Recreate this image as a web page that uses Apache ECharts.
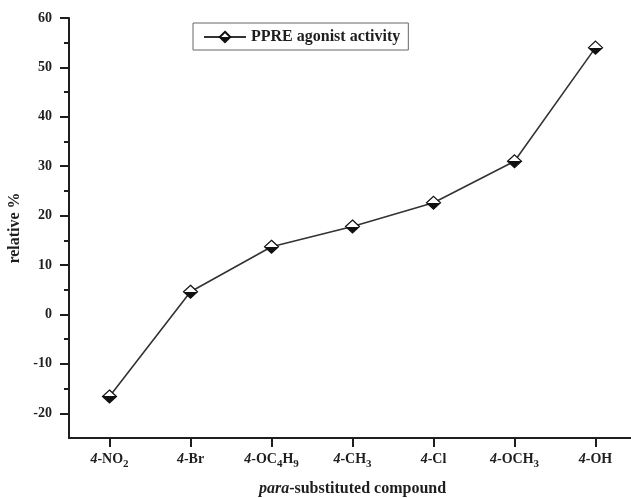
<!DOCTYPE html>
<html>
<head>
<meta charset="utf-8">
<script src="https://cdn.jsdelivr.net/npm/echarts@6/dist/echarts.min.js"></script>
<style>
html,body{margin:0;padding:0;background:#fff;}
#c{width:631px;height:498px;}
</style>
</head>
<body>
<div id="c"></div>
<script>
const categories = ['4-NO2', '4-Br', '4-OC4H9', '4-CH3', '4-Cl', '4-OCH3', '4-OH'];
const agonistActivity = [-16.6, 4.6, 13.7, 17.8, 22.6, 31.0, 54.0];
const seriesName = 'PPRE agonist activity';
const yMajorTicks = [-20, -10, 0, 10, 20, 30, 40, 50, 60];
const yMinorTicks = [-15, -5, 5, 15, 25, 35, 45, 55];

const FONT = '"Liberation Serif", "Times New Roman", serif';
const INK = '#1e1e1e';

function fmtCat(v) {
  const rest = v.slice(2).replace(/(\d+)/g, '}{s|$1}{b|');
  return '{i|4}{b|-' + rest + '}';
}

const chart = echarts.init(document.getElementById('c'), null, {renderer: 'canvas'});
const diamondFill = new echarts.graphic.LinearGradient(0, 0, 0, 1, [
  {offset: 0, color: '#ffffff'}, {offset: 0.5, color: '#ffffff'},
  {offset: 0.5, color: '#111111'}, {offset: 1, color: '#111111'}
]);

chart.setOption({
  backgroundColor: '#ffffff',
  animation: false,
  textStyle: {fontFamily: FONT, color: INK},
  grid: {left: 69, right: -5, top: 18, bottom: 60, containLabel: false, outerBoundsMode: 'none'},
  legend: {
    left: 193, top: 23,
    padding: [6, 8, 5, 10],
    borderColor: '#666', borderWidth: 1,
    itemWidth: 42, itemHeight: 13,
    textStyle: {fontFamily: FONT, fontWeight: 'bold', fontSize: 16, color: INK},
    data: [seriesName]
  },
  xAxis: {
    type: 'category',
    data: categories,
    boundaryGap: true,
    name: '{it|para}{bd|-substituted compound}',
    nameLocation: 'middle',
    nameGap: 43,
    nameTextStyle: {
      rich: {
        it: {fontFamily: FONT, fontStyle: 'italic', fontWeight: 'bold', fontSize: 16, color: INK},
        bd: {fontFamily: FONT, fontWeight: 'bold', fontSize: 16, color: INK}
      }
    },
    axisLine: {show: true, onZero: false, lineStyle: {color: INK, width: 2}},
    axisTick: {show: true, alignWithLabel: true, interval: 0, length: 9, lineStyle: {color: INK, width: 2}},
    axisLabel: {
      interval: 0,
      margin: 10,
      formatter: fmtCat,
      rich: {
        i: {fontFamily: FONT, fontStyle: 'italic', fontWeight: 'bold', fontSize: 14, lineHeight: 22, color: INK},
        b: {fontFamily: FONT, fontWeight: 'bold', fontSize: 14, lineHeight: 22, color: INK},
        s: {fontFamily: FONT, fontWeight: 'bold', fontSize: 11, lineHeight: 22, verticalAlign: 'bottom', color: INK}
      }
    },
    splitLine: {show: false}
  },
  yAxis: [{
    type: 'value',
    min: -25, max: 60,
    name: 'relative %',
    nameLocation: 'middle',
    nameGap: 41,
    nameTextStyle: {fontFamily: FONT, fontWeight: 'bold', fontSize: 16, color: INK},
    axisLine: {show: true, onZero: false, lineStyle: {color: INK, width: 2}},
    axisTick: {show: true, length: 9, customValues: yMajorTicks, lineStyle: {color: INK, width: 2}},
    axisLabel: {margin: 17, customValues: yMajorTicks, fontFamily: FONT, fontWeight: 'bold', fontSize: 14, color: INK},
    splitLine: {show: false}
  }, {
    type: 'value',
    position: 'left',
    min: -25, max: 60,
    axisLine: {show: false, onZero: false},
    axisTick: {show: true, length: 5, customValues: yMinorTicks, lineStyle: {color: INK, width: 2}},
    axisLabel: {show: false},
    splitLine: {show: false}
  }],
  series: [{
    name: seriesName,
    type: 'line',
    data: agonistActivity,
    symbol: 'diamond',
    symbolSize: [14, 13],
    lineStyle: {color: '#333', width: 1.6},
    itemStyle: {color: diamondFill, borderColor: '#111', borderWidth: 1.2},
    z: 3
  }]
});
</script>
</body>
</html>
